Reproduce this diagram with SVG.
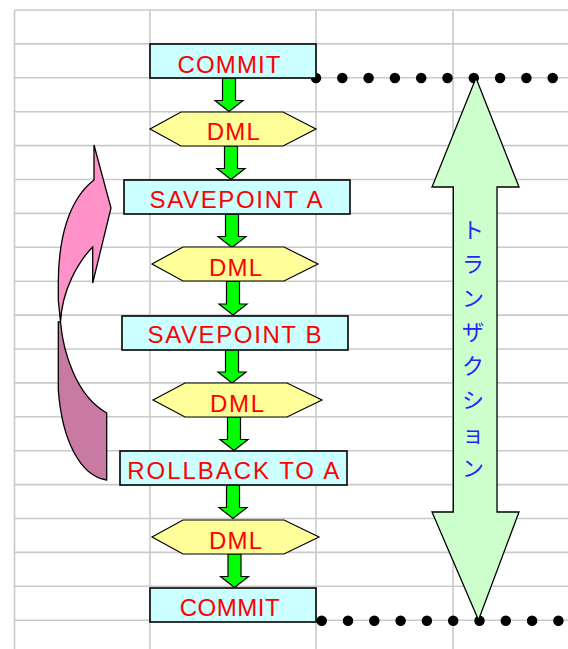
<svg xmlns="http://www.w3.org/2000/svg" width="568" height="649" viewBox="0 0 568 649">
<style>
.grid{stroke:#cacaca;stroke-width:1.6;fill:none}
.box{fill:#ccffff;stroke:#000;stroke-width:1.6}
.hex{fill:#ffff99;stroke:#000;stroke-width:1.2}
.lbl{font-family:"Liberation Sans",Arial,sans-serif;font-size:24px;fill:#ff0000;text-anchor:middle}
.garrow{fill:#00ff00;stroke:#000;stroke-width:1.2}
.dots{stroke:#000;stroke-width:10.5;stroke-linecap:round;stroke-dasharray:0 26.3;fill:none}
.pink{stroke:#000;stroke-width:1.3}
</style>
<defs>
<path id="ga" d="M-6.5,0 H6.5 V22.5 H14 L0,33.5 L-14,22.5 H-6.5 Z"/>
</defs>
<rect width="568" height="649" fill="#fff"/>
<g id="grid" class="grid">
<path d="M14.5,10 V649 M150,10 V649 M316,10 V649 M453,10 V649"/>
<path d="M14.5,10 H568 M14.5,43.9 H568 M14.5,77.8 H568 M14.5,111.7 H568 M14.5,145.6 H568 M14.5,179.5 H568 M14.5,213.4 H568 M14.5,247.3 H568 M14.5,281.2 H568 M14.5,315.1 H568 M14.5,349 H568 M14.5,382.9 H568 M14.5,416.8 H568 M14.5,450.7 H568 M14.5,484.6 H568 M14.5,518.5 H568 M14.5,552.4 H568 M14.5,586.3 H568 M14.5,620.2 H568"/>
</g>
<g id="connectors">
<use href="#ga" class="garrow" transform="translate(229,78)"/>
<use href="#ga" class="garrow" transform="translate(231,146)"/>
<use href="#ga" class="garrow" transform="translate(232,214)"/>
<use href="#ga" class="garrow" transform="translate(233,281.5)"/>
<use href="#ga" class="garrow" transform="translate(232,349.5)"/>
<use href="#ga" class="garrow" transform="translate(234,417)"/>
<use href="#ga" class="garrow" transform="translate(233,485)"/>
<use href="#ga" class="garrow" transform="translate(234.5,554)"/>
<path class="dots" d="M316,78 H560"/>
<path class="dots" d="M321.7,620.7 H566"/>
</g>
<g id="rollback-arrow">
<path class="pink" fill="#ff93c9" d="M60.5,322 L58.3,300 L58.3,282 C58.5,240 68,200 94,180 L94,145 L111,208 L92.7,283 L92.7,247 C78,262 62,290 60.5,322 Z"/>
<path class="pink" fill="#c97aa2" d="M60.5,322 C63,350 75,395 106.7,413 L106.7,480 C80,476 62,440 58.3,390 L58.3,322 Z"/>
</g>
<g id="transaction">
<polygon points="476,78 519,187 497,187 497,512 519,512 478.5,620 432,512 453.3,512 453.3,187 432,187" fill="#ccffcc" stroke="#000" stroke-width="1.3"/>
<text x="473 473 473 473 473 473 473 473" y="238 272 306 340 374 408 442 476" font-family="'Noto Sans CJK JP',sans-serif" font-size="22" fill="#2424ff" text-anchor="middle">トランザクション</text>
</g>
<g id="commit1">
<rect class="box" x="150" y="44" width="166" height="34"/>
<text class="lbl" x="229" y="73" textLength="103">COMMIT</text>
</g>
<g id="dml1">
<polygon class="hex" points="150,129 181,112 283,112 316,129 283,146 181,146"/>
<text class="lbl" x="233.3" y="140" textLength="53">DML</text>
</g>
<g id="savepointA">
<rect class="box" x="124" y="180" width="226" height="34"/>
<text class="lbl" x="236" y="208.3" textLength="173">SAVEPOINT A</text>
</g>
<g id="dml2">
<polygon class="hex" points="152,264 183,247 284,247 318,264 284,281 183,281"/>
<text class="lbl" x="235.5" y="276" textLength="53">DML</text>
</g>
<g id="savepointB">
<rect class="box" x="122" y="316" width="226" height="34"/>
<text class="lbl" x="234.5" y="343.3" textLength="174">SAVEPOINT B</text>
</g>
<g id="dml3">
<polygon class="hex" points="153,400 185,383 287,383 322,400 287,417 185,417"/>
<text class="lbl" x="237" y="411.7" textLength="54">DML</text>
</g>
<g id="rollbackToA">
<rect class="box" x="120" y="451" width="227" height="34"/>
<text class="lbl" x="233.3" y="479.3" textLength="212">ROLLBACK TO A</text>
</g>
<g id="dml4">
<polygon class="hex" points="152,537 183,520 284,520 319,537 284,554 183,554"/>
<text class="lbl" x="235.5" y="549.3" textLength="53">DML</text>
</g>
<g id="commit2">
<rect class="box" x="150" y="588" width="166" height="34"/>
<text class="lbl" x="229.7" y="616" textLength="100">COMMIT</text>
</g>
</svg>
